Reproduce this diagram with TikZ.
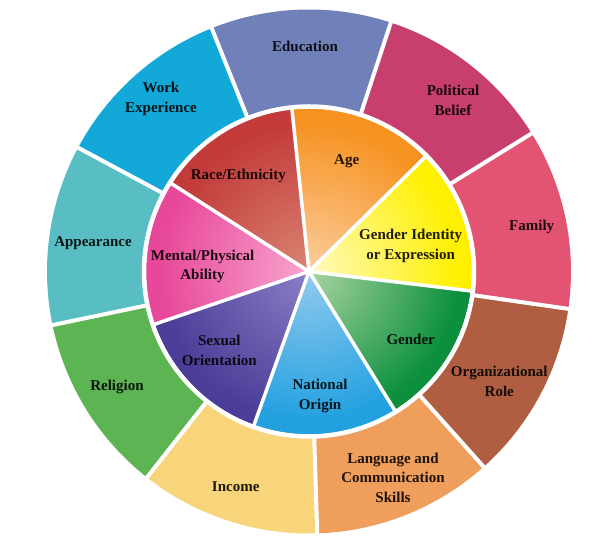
\documentclass[tikz,border=0pt]{standalone}
\usepackage{fontspec}
\setmainfont{Liberation Serif}
\usetikzlibrary{calc}
\definecolor{cedu}{RGB}{112,128,184}
\definecolor{cwork}{RGB}{18,168,216}
\definecolor{cappear}{RGB}{88,190,196}
\definecolor{crelig}{RGB}{92,180,82}
\definecolor{cincome}{RGB}{248,212,122}
\definecolor{clang}{RGB}{240,158,92}
\definecolor{corg}{RGB}{176,94,66}
\definecolor{cfam}{RGB}{226,84,114}
\definecolor{cpolit}{RGB}{200,62,110}
\definecolor{cage}{RGB}{246,146,32}
\definecolor{cagel}{RGB}{252,204,156}
\definecolor{cgid}{RGB}{255,240,0}
\definecolor{cgidl}{RGB}{255,250,190}
\definecolor{cgen}{RGB}{12,144,62}
\definecolor{cgenl}{RGB}{170,212,162}
\definecolor{cnat}{RGB}{34,160,224}
\definecolor{cnatl}{RGB}{146,202,238}
\definecolor{csex}{RGB}{74,62,152}
\definecolor{csexl}{RGB}{140,126,198}
\definecolor{cment}{RGB}{232,72,154}
\definecolor{cmentl}{RGB}{248,166,206}
\definecolor{crace}{RGB}{194,58,58}
\definecolor{cracel}{RGB}{218,132,116}
\begin{document}
\begin{tikzpicture}[x=1pt,y=1pt,
  lbl/.style={font=\bfseries\fontsize{15}{19.5}\selectfont, align=center, text=black, text opacity=0.88, inner sep=0pt},
  sep/.style={white, line width=4pt},
  isep/.style={white, line width=3.5pt},
]
\useasboundingbox (0,0) rectangle (616,540);
\coordinate (C) at (309,268.5);
\def\Ro{262}
\def\Ri{163}
% outer ring
\foreach \a/\col in {71.8/cedu,111.8/cwork,151.8/cappear,191.8/crelig,231.8/cincome,271.8/clang,311.8/corg,351.8/cfam,31.8/cpolit}{
  \fill[\col] (C) -- ++(\a:\Ro) arc[start angle=\a, delta angle=40, radius=\Ro] -- cycle;
}
\foreach \a in {71.8,111.8,151.8,191.8,231.8,271.8,311.8,351.8,31.8}{
  \draw[sep] ($(C)+(\a:\Ri)$) -- ($(C)+(\a:\Ro+3)$);
}
% inner wheel
\fill[white] (C) circle (\Ri+2);
\foreach \a/\full/\light in {96/cage/cagel,44.57/cgid/cgidl,-6.86/cgen/cgenl,-58.29/cnat/cnatl,-109.71/csex/csexl,-161.14/cment/cmentl,147.43/crace/cracel}{
  \begin{scope}
    \clip (C) -- ++(\a:\Ri) arc[start angle=\a, delta angle=-51.43, radius=\Ri] -- cycle;
    \fill[\full] (C) circle (\Ri);
    \shade[inner color=\light, outer color=\full] (C) circle (150);
  \end{scope}
}
\foreach \a in {96,44.57,-6.86,-58.29,-109.71,-161.14,147.43}{
  \draw[isep] (C) -- ($(C)+(\a:\Ri+2)$);
}
\draw[white, line width=4.5pt] (C) circle (\Ri+2);
% outer labels
\node[lbl] (tedu) at (305,493.3) {Education};
\node[lbl] (tpol) at (453,439.6) {Political\\Belief};
\node[lbl] (tfam) at (531.7,313.3) {Family};
\node[lbl] (torg) at (499.3,158.5) {Organizational\\Role};
\node[lbl] (tlang) at (393,62.3) {Language and\\Communication\\Skills};
\node[lbl] (tinc) at (235.7,53.3) {Income};
\node[lbl] (trel) at (117,153) {Religion};
\node[lbl] (tapp) at (93,297) {Appearance};
\node[lbl] (twork) at (161,441) {Work\\Experience};
% inner labels
\node[lbl] (tage) at (346.7,378.3) {Age};
\node[lbl] (trace) at (238.3,364) {Race/Ethnicity};
\node[lbl] (tgid) at (410.7,294.2) {Gender Identity\\or Expression};
\node[lbl] (tment) at (202.5,273.8) {Mental/Physical\\Ability};
\node[lbl] (tsex) at (219.3,189.7) {Sexual\\Orientation};
\node[lbl] (tnat) at (320,143.8) {National\\Origin};
\node[lbl] (tgen) at (410.7,201) {Gender};
\end{tikzpicture}
\end{document}
